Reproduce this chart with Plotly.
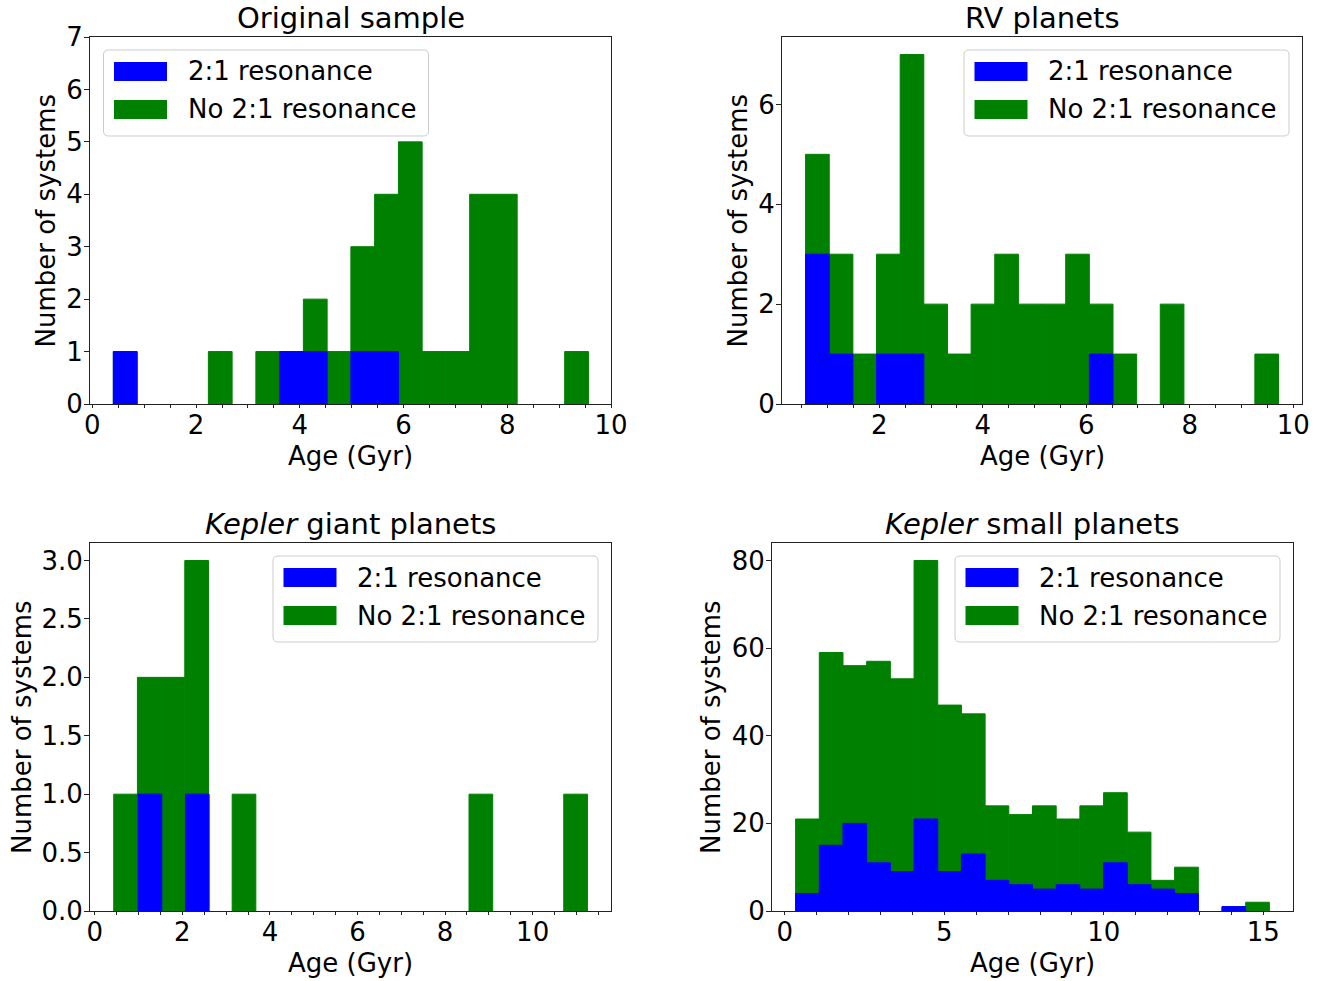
import numpy as np
import plotly.graph_objects as go

W, H = 1327, 981

# ---------------- data (histogram bins and counts) ----------------
orig_bin_start = 0.405
orig_bin_width = 0.458
orig_all = [1, 0, 0, 0, 1, 0, 1, 1, 2, 1, 3, 4, 5, 1, 1, 4, 4, 0, 0, 1]
orig_res = [1, 0, 0, 0, 0, 0, 0, 1, 1, 0, 1, 1, 0, 0, 0, 0, 0, 0, 0, 0]

rv_bin_start = 0.576
rv_bin_width = 0.457
rv_all = [5, 3, 1, 3, 7, 2, 1, 2, 3, 2, 2, 3, 2, 1, 0, 2, 0, 0, 0, 1]
rv_res = [3, 1, 0, 1, 1, 0, 0, 0, 0, 0, 0, 0, 1, 0, 0, 0, 0, 0, 0, 0]

kg_bin_start = 0.432
kg_bin_width = 0.541
kg_all = [1, 2, 2, 3, 0, 1, 0, 0, 0, 0, 0, 0, 0, 0, 0, 1, 0, 0, 0, 1]
kg_res_bin_start = 0.988
kg_res_bin_width = 0.541
kg_res = [1, 0, 1]

ks_bin_start = 0.34
ks_bin_width = 0.7425
ks_all = [21, 59, 56, 57, 53, 80, 47, 45, 24, 22, 24, 21, 24, 27, 18, 7, 10, 0, 1, 2]
ks_res = [4, 15, 20, 11, 9, 21, 9, 13, 7, 6, 5, 6, 5, 11, 6, 5, 4, 0, 1, 0]

titles = ["Original sample", "RV planets",
          "<i>Kepler</i> giant planets", "<i>Kepler</i> small planets"]
x_label = "Age (Gyr)"
y_label = "Number of systems"
legend_labels = ["2:1 resonance", "No 2:1 resonance"]

# ---------------- styling / layout ----------------
BLUE = "#0000ff"
GREEN = "#008000"
FONT = "DejaVu Sans"
AXC = "#222222"

panels = [
    dict(all=(orig_bin_start, orig_bin_width, orig_all), res=(orig_bin_start, orig_bin_width, orig_res)),
    dict(all=(rv_bin_start, rv_bin_width, rv_all), res=(rv_bin_start, rv_bin_width, rv_res)),
    dict(all=(kg_bin_start, kg_bin_width, kg_all), res=(kg_res_bin_start, kg_res_bin_width, kg_res)),
    dict(all=(ks_bin_start, ks_bin_width, ks_all), res=(ks_bin_start, ks_bin_width, ks_res)),
]

boxes = [(90, 611, 37, 404), (782, 1302, 37, 404), (90, 611, 543, 911), (772, 1293, 543, 911)]
xranges = [[-0.045, 10.0], [0.12, 10.17], [-0.11, 11.79], [-0.40, 15.93]]
yranges = [[0, 7], [0, 7.35], [0, 3.15], [0, 84]]
xmajor = [2, 2, 2, 5]
xminor = [0.5, 0.5, 0.5, 1]
ydtick = [1, 2, 0.5, 20]
yfmt = ["d", "d", ".1f", "d"]
legend_side = ["left", "right", "right", "right"]
ylabel_x = [46, 738, 22, 711]

TICK_FS = 26
LABEL_FS = 26
TITLE_FS = 29


def px(x):
    return x / W


def py(y):
    return 1 - y / H


fig = go.Figure()
layout = dict(width=W, height=H, margin=dict(l=0, r=0, t=0, b=0, pad=0, autoexpand=False),
              paper_bgcolor="white", plot_bgcolor="white", barmode="overlay",
              showlegend=False, font=dict(family=FONT, color="black"))
shapes = []
annotations = []


def sfx(n):
    return "" if n == 1 else str(n)


for k in range(4):
    xi, yi = k + 1, k + 1
    xname, yname = "x" + sfx(xi), "y" + sfx(yi)
    l, r, t, b = boxes[k]
    p = panels[k]
    for (start, width, counts), color in ((p["all"], GREEN), (p["res"], BLUE)):
        counts = np.array(counts, dtype=float)
        centers = start + (np.arange(len(counts)) + 0.5) * width
        keep = counts > 0
        fig.add_trace(go.Bar(x=centers[keep], y=counts[keep], width=width,
                             marker=dict(color=color, line=dict(width=1, color=color)),
                             xaxis=xname, yaxis=yname, showlegend=False,
                             hovertemplate="%{x:.2f}: %{y}<extra></extra>"))

    xr = xranges[k]
    layout["xaxis" + sfx(xi)] = dict(
        domain=[px(l), px(r)], range=xr, anchor=yname, showline=True, linecolor=AXC, linewidth=1,
        mirror=True, ticks="outside", ticklen=3, tickwidth=1, tickcolor=AXC, tick0=0, dtick=xmajor[k],
        minor=dict(dtick=xminor[k], tick0=0, ticks="outside", ticklen=3, tickwidth=1, tickcolor=AXC),
        tickfont=dict(size=TICK_FS, family=FONT, color="black"), ticklabelstandoff=-5,
        showgrid=False, zeroline=False, automargin=False, fixedrange=True)
    # inner half of bottom ticks
    bi = 4 + k + 1
    layout["xaxis" + sfx(bi)] = dict(
        overlaying=xname, anchor=yname, side="bottom", range=xr, showline=False, ticks="inside",
        ticklen=3, tickwidth=1, tickcolor=AXC, tick0=0, dtick=xmajor[k],
        minor=dict(dtick=xminor[k], tick0=0, ticks="inside", ticklen=3, tickwidth=1, tickcolor=AXC),
        showticklabels=False, showgrid=False, zeroline=False, automargin=False, fixedrange=True)
    # top minor ticks (inward)
    ti = 8 + k + 1
    mvals = np.arange(np.ceil(xr[0] / xminor[k]) * xminor[k], xr[1] + 1e-9, xminor[k])
    mvals = [float(v) for v in mvals if abs(v / xmajor[k] - round(v / xmajor[k])) > 1e-6]
    layout["xaxis" + sfx(ti)] = dict(
        overlaying=xname, anchor=yname, side="top", range=xr, showline=False, ticks="inside",
        ticklen=5, tickwidth=1, tickcolor=AXC, tickvals=mvals, showticklabels=False,
        showgrid=False, zeroline=False, automargin=False, fixedrange=True)
    layout["yaxis" + sfx(yi)] = dict(
        domain=[py(b), py(t)], range=yranges[k], anchor=xname, showline=True, linecolor=AXC,
        linewidth=1, mirror=True, ticks="outside", ticklen=5, tickwidth=1, tickcolor=AXC, tick0=0,
        dtick=ydtick[k], tickformat=yfmt[k], tickfont=dict(size=TICK_FS, family=FONT, color="black"),
        ticklabelstandoff=-4,
        showgrid=False, zeroline=False, automargin=False, fixedrange=True)

    # title
    annotations.append(dict(text=titles[k], x=px((l + r) / 2), y=py(t - 19), xref="paper", yref="paper",
                            xanchor="center", yanchor="middle", showarrow=False,
                            font=dict(size=TITLE_FS, family=FONT, color="black")))
    # axis labels
    annotations.append(dict(text=x_label, x=px((l + r) / 2), y=py(b + 52), xref="paper", yref="paper",
                            xanchor="center", yanchor="middle", showarrow=False,
                            font=dict(size=LABEL_FS, family=FONT, color="black")))
    annotations.append(dict(text=y_label, x=px(ylabel_x[k]), y=py((t + b) / 2), xref="paper", yref="paper",
                            xanchor="center", yanchor="middle", showarrow=False, textangle=-90,
                            font=dict(size=LABEL_FS, family=FONT, color="black")))

    # legend (matplotlib-like)
    lw, lh = 325, 86
    if legend_side[k] == "left":
        L = l + 13.5
    else:
        L = r - 13 - lw
    T = t + 13
    R, B = L + lw, T + lh
    rad = 5
    pts = [("M", L + rad, T), ("L", R - rad, T), ("Q", R, T, R, T + rad), ("L", R, B - rad),
           ("Q", R, B, R - rad, B), ("L", L + rad, B), ("Q", L, B, L, B - rad), ("L", L, T + rad),
           ("Q", L, T, L + rad, T)]
    path = ""
    for item in pts:
        cmd = item[0]
        coords = item[1:]
        segs = []
        for j in range(0, len(coords), 2):
            segs.append(f"{px(coords[j]):.6f},{py(coords[j + 1]):.6f}")
        path += cmd + " ".join(segs) + " "
    path += "Z"
    shapes.append(dict(type="path", path=path, xref="paper", yref="paper", layer="above",
                       line=dict(color="#cccccc", width=1), fillcolor="rgba(255,255,255,0.8)"))
    for row, (lab, col) in enumerate(zip(legend_labels, [BLUE, GREEN])):
        cy = T + 21.5 + row * 38
        shapes.append(dict(type="rect", xref="paper", yref="paper", layer="above",
                           x0=px(L + 10.5), x1=px(L + 63.5), y0=py(cy - 9.5), y1=py(cy + 9.5),
                           line=dict(width=0), fillcolor=col))
        annotations.append(dict(text=lab, x=px(L + 82), y=py(cy), xref="paper", yref="paper",
                                xanchor="left", yanchor="middle", showarrow=False,
                                font=dict(size=LABEL_FS, family=FONT, color="black")))

layout["shapes"] = shapes
layout["annotations"] = annotations
fig.update_layout(**layout)
fig.write_html("out.html")
